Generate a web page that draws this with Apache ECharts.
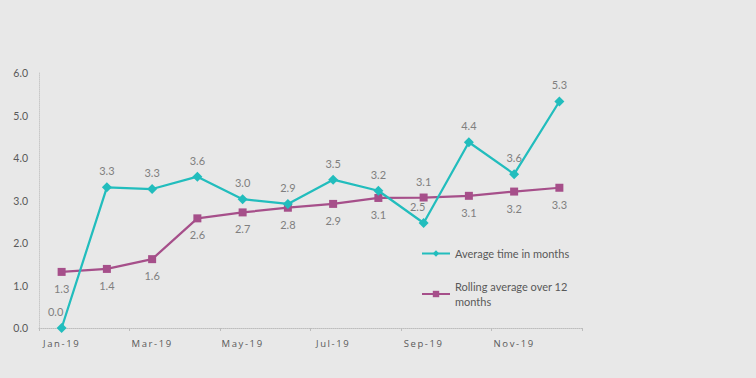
<!DOCTYPE html>
<html>
<head>
<meta charset="utf-8">
<script src="https://cdn.jsdelivr.net/npm/echarts@6/dist/echarts.min.js"></script>
<style>
html,body{margin:0;padding:0;background:#e8e8e8;}
#c{width:756px;height:378px;}
#c svg text[style*="Open Sans"]{letter-spacing:1.6px;}
</style>
</head>
<body>
<div id="c"></div>
<script>
const categories = ['Jan-19','Feb-19','Mar-19','Apr-19','May-19','Jun-19','Jul-19','Aug-19','Sep-19','Oct-19','Nov-19','Dec-19'];
const averageTime = [0.0, 3.31, 3.27, 3.56, 3.03, 2.92, 3.49, 3.23, 2.47, 4.37, 3.62, 5.33];
const rollingAverage = [1.32, 1.39, 1.62, 2.58, 2.72, 2.83, 2.92, 3.06, 3.07, 3.11, 3.21, 3.30];
const yTicks = [0, 1, 2, 3, 4, 5, 6];
const seriesNames = ['Average time in months', 'Rolling average over 12 months'];

const teal = '#22BDBD';
const purple = '#A64F8A';
const FONT = 'Lato, "Noto Sans", sans-serif';

const chart = echarts.init(document.getElementById('c'), null, {renderer: 'svg'});
const rollingData = rollingAverage.map((v, i) => i === 8 ? {value: v, label: {position: 'top'}} : v);
const averageData = averageTime.map((v, i) => (i === 0 || i === 8) ? {value: v, label: {offset: [-6, 0]}} : v);

chart.setOption({
  backgroundColor: '#e8e8e8',
  animation: false,
  grid: {left: 39, right: 174, top: 73, bottom: 50},
  legend: {
    orient: 'vertical',
    left: 421,
    top: 246,
    padding: 0,
    itemWidth: 28,
    itemHeight: 8,
    itemGap: 18,
    data: seriesNames,
    textStyle: {fontFamily: FONT, fontSize: 11, color: '#595959', width: 118, overflow: 'break', lineHeight: 15}
  },
  xAxis: {
    type: 'category',
    data: categories,
    boundaryGap: true,
    axisLine: {lineStyle: {color: '#bdbdbd', type: 'dotted', width: 1}},
    axisTick: {show: true, interval: 1, length: 3, lineStyle: {color: '#bdbdbd'}},
    axisLabel: {interval: 1, margin: 10, fontFamily: '"Open Sans"', fontSize: 9.5, color: '#595959'},
    splitLine: {show: false}
  },
  yAxis: {
    type: 'value',
    min: yTicks[0],
    max: yTicks[yTicks.length - 1],
    interval: 1,
    axisLine: {show: true, lineStyle: {color: '#c8c8c8', type: 'dotted', width: 1}},
    axisTick: {show: false},
    axisLabel: {margin: 11, fontFamily: FONT, fontSize: 10.5, color: '#595959', formatter: v => v.toFixed(1)},
    splitLine: {show: false}
  },
  series: [
    {
      name: seriesNames[0],
      type: 'line',
      data: averageData,
      symbol: 'diamond',
      symbolSize: 10,
      itemStyle: {color: teal},
      lineStyle: {color: teal, width: 2.25},
      label: {show: true, position: 'top', distance: 6, fontFamily: FONT, fontSize: 11, color: '#7f7f7f', formatter: p => Number(p.value).toFixed(1)},
      z: 3
    },
    {
      name: seriesNames[1],
      type: 'line',
      data: rollingData,
      symbol: 'rect',
      symbolSize: 8,
      itemStyle: {color: purple},
      lineStyle: {color: purple, width: 2.25},
      label: {show: true, position: 'bottom', distance: 7, fontFamily: FONT, fontSize: 11, color: '#7f7f7f', formatter: p => Number(p.value).toFixed(1)},
      z: 2
    }
  ]
});
</script>
</body>
</html>
